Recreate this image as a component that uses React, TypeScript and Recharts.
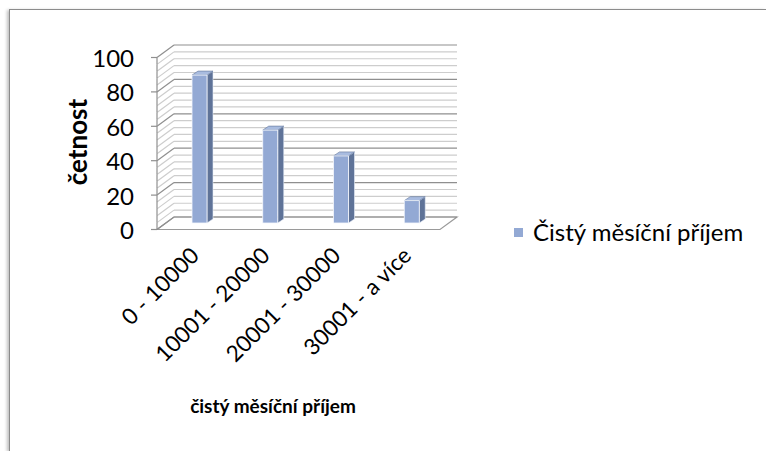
import React from 'react';
import { Bar, BarChart, XAxis, YAxis } from 'recharts';

const categories = ['0 - 10000', '10001 - 20000', '20001 - 30000', '30001 - a více'];
const counts = [86, 54, 39, 13];
const yTicks = [0, 4, 8, 12, 16, 20, 24, 28, 32, 36, 40, 44, 48, 52, 56, 60, 64, 68, 72, 76, 80, 84, 88, 92, 96, 100];
const seriesName = 'Čistý měsíční příjem';
const xTitle = 'čistý měsíční příjem';
const yTitle = 'četnost';

const data = categories.map((range, i) => ({ range, count: counts[i] }));

// layout of the fake 3D box (back wall = recharts plot area)
const W = 766;
const H = 451;
const BACK_LEFT = 174;
const BACK_RIGHT = 457;
const BACK_TOP = 45;
const BACK_BOTTOM = 217;
const DEPTH_X = -17; // front plane relative to back wall
const DEPTH_Y = 12.5;
const FRONT_LEFT = BACK_LEFT + DEPTH_X;
const STEP = (BACK_BOTTOM - BACK_TOP) / 25;
const MARGIN = { top: BACK_TOP, left: BACK_LEFT - 1, right: W - BACK_RIGHT, bottom: H - BACK_BOTTOM - 1 };

const FONT = 'Lato, "Open Sans", sans-serif';
const BAR_FRONT = '#93A9D4';
const BAR_SIDE = '#5F7398';
const BAR_TOP = '#A9BCE0';

const YTick = (props: any) => {
    const { y, payload } = props;
    const v = payload.value;
    const major = v % 20 === 0;
    const col = major ? '#8f8f8f' : '#cdcdcd';
    const fy = y + DEPTH_Y;
    return (
        <g>
            {v === 0 && (
                <polygon
                    points={`${FRONT_LEFT},${fy} ${BACK_RIGHT + DEPTH_X},${fy} ${BACK_RIGHT},${y} ${BACK_LEFT},${y}`}
                    fill="#fff"
                    stroke="#9a9a9a"
                    strokeWidth={1.2}
                />
            )}
            <line x1={BACK_LEFT} x2={BACK_RIGHT} y1={y} y2={y} stroke={col} strokeWidth={1.2} />
            <line x1={FRONT_LEFT} y1={fy} x2={BACK_LEFT} y2={y} stroke={col} strokeWidth={1.2} />
            {v > 0 && (
                <line x1={FRONT_LEFT} x2={FRONT_LEFT} y1={fy} y2={fy + STEP} stroke="#8f8f8f" strokeWidth={1.2} />
            )}
            {major && <line x1={FRONT_LEFT - 6} x2={FRONT_LEFT} y1={fy} y2={fy} stroke="#8f8f8f" strokeWidth={1.2} />}
            {major && (
                <text
                    x={FRONT_LEFT - 23}
                    y={fy}
                    textAnchor="end"
                    dominantBaseline="central"
                    fontFamily={FONT}
                    fontSize={24}
                    fill="#000"
                >
                    {v}
                </text>
            )}
        </g>
    );
};

const XTick = (props: any) => {
    const { x, payload } = props;
    const ax = x - 9;
    const ay = BACK_BOTTOM + 40;
    return (
        <text
            x={ax}
            y={ay}
            transform={`rotate(-45, ${ax}, ${ay})`}
            textAnchor="end"
            fontFamily={FONT}
            fontSize={22.5}
            fill="#000"
        >
            {payload.value}
        </text>
    );
};

const Bar3D = (props: any) => {
    const { x, y, width, height } = props;
    const x0 = x - 10;
    const y0 = y + 6;
    const dx = 6;
    const dy = -4;
    return (
        <g>
            <polygon
                points={`${x0 + width},${y0} ${x0 + width + dx},${y0 + dy} ${x0 + width + dx},${y0 + height + dy} ${x0 + width},${y0 + height}`}
                fill={BAR_SIDE}
                stroke="#e8eef8"
                strokeWidth={0.6}
            />
            <polygon
                points={`${x0},${y0} ${x0 + dx},${y0 + dy} ${x0 + width + dx},${y0 + dy} ${x0 + width},${y0}`}
                fill={BAR_TOP}
                stroke="#5F7398"
                strokeWidth={0.6}
            />
            <rect x={x0} y={y0} width={width} height={height} fill={BAR_FRONT} stroke="#f4f7fc" strokeWidth={0.8} />
        </g>
    );
};

const NoShape = () => <g />;

export default function App() {
    return (
        <div style={{ position: 'absolute', left: 0, top: 0, width: W, height: H, background: '#fff', overflow: 'hidden' }}>
            <div
                style={{
                    position: 'absolute',
                    left: 9,
                    top: 9,
                    width: W - 9,
                    height: H - 9,
                    borderTop: '1.5px solid #8c8c8c',
                    borderLeft: '1.5px solid #8c8c8c',
                    boxShadow: '-2px 1px 3px rgba(0,0,0,0.25)',
                    boxSizing: 'border-box',
                }}
            />
            {/* walls, floor and axis labels (behind the bars) */}
            <div style={{ position: 'absolute', left: 0, top: 0 }}>
                <BarChart width={W} height={H} data={data} margin={MARGIN}>
                    <YAxis
                        type="number"
                        domain={[0, 100]}
                        ticks={yTicks}
                        interval={0}
                        width={1}
                        axisLine={false}
                        tickLine={false}
                        tick={<YTick />}
                    />
                    <XAxis
                        dataKey="range"
                        interval={0}
                        height={1}
                        axisLine={false}
                        tickLine={false}
                        tick={<XTick />}
                    />
                    <Bar dataKey="count" fill="none" barSize={15} shape={<NoShape />} isAnimationActive={false} />
                </BarChart>
            </div>
            {/* 3D columns on top */}
            <div style={{ position: 'absolute', left: 0, top: 0 }}>
                <BarChart width={W} height={H} data={data} margin={MARGIN}>
                    <YAxis type="number" domain={[0, 100]} ticks={yTicks} width={1} axisLine={false} tickLine={false} tick={false} />
                    <XAxis dataKey="range" height={1} axisLine={false} tickLine={false} tick={false} />
                    <Bar
                        dataKey="count"
                        name={seriesName}
                        fill={BAR_FRONT}
                        barSize={15}
                        shape={<Bar3D />}
                        isAnimationActive={false}
                    />
                </BarChart>
            </div>
            <div
                style={{
                    position: 'absolute',
                    left: 514,
                    top: 217,
                    display: 'flex',
                    alignItems: 'center',
                    lineHeight: '30px',
                }}
            >
                <span style={{ width: 9, height: 9, background: BAR_FRONT, marginRight: 10, display: 'inline-block' }} />
                <span style={{ fontFamily: FONT, fontSize: 24, color: '#000', whiteSpace: 'nowrap' }}>{seriesName}</span>
            </div>
            <div
                style={{
                    position: 'absolute',
                    left: 77,
                    top: 142,
                    transform: 'translate(-50%, -50%) rotate(-90deg)',
                    fontFamily: FONT,
                    fontWeight: 700,
                    fontSize: 26,
                    lineHeight: 1,
                    whiteSpace: 'nowrap',
                    color: '#000',
                }}
            >
                {yTitle}
            </div>
            <div
                style={{
                    position: 'absolute',
                    left: 0,
                    width: 546,
                    top: 396,
                    textAlign: 'center',
                    fontFamily: FONT,
                    fontWeight: 700,
                    fontSize: 19,
                    lineHeight: 1,
                    whiteSpace: 'nowrap',
                    color: '#000',
                }}
            >
                {xTitle}
            </div>
        </div>
    );
}
